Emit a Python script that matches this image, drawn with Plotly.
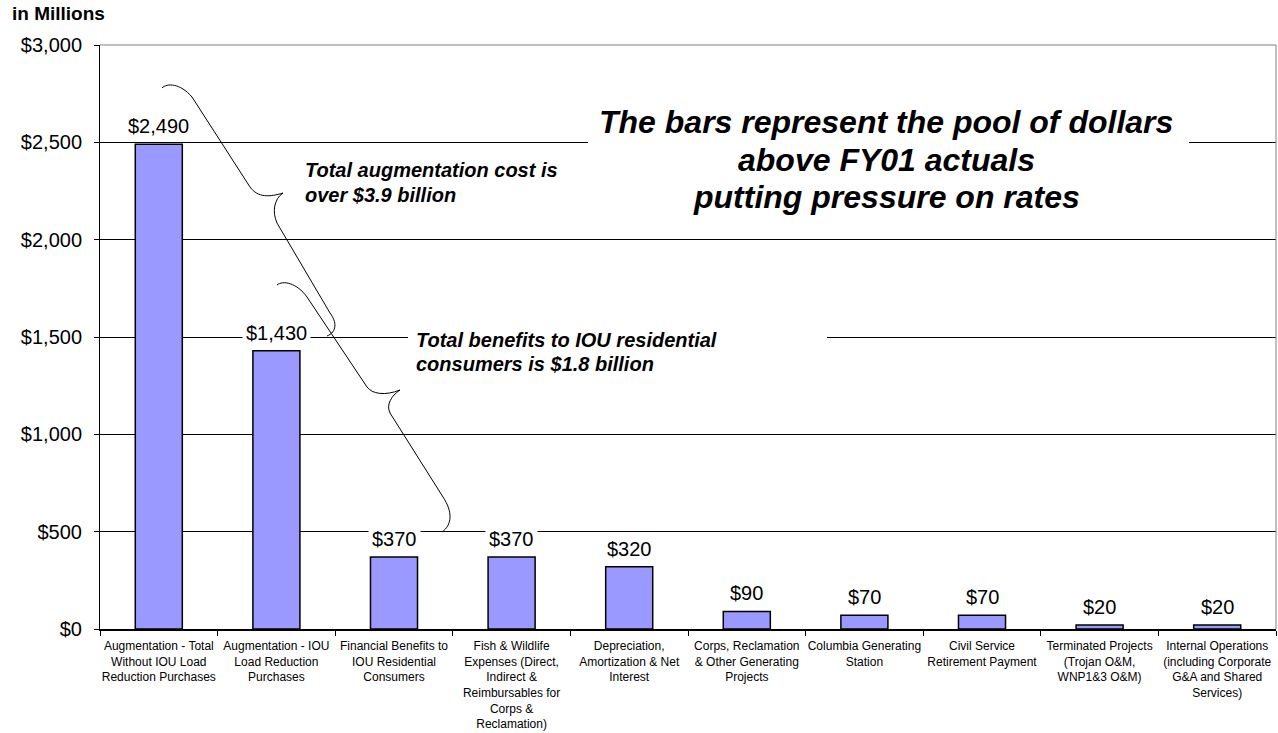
import plotly.graph_objects as go

# ---------------- data ----------------
categories = [
    "Augmentation - Total Without IOU Load Reduction Purchases",
    "Augmentation - IOU Load Reduction Purchases",
    "Financial Benefits to IOU Residential Consumers",
    "Fish & Wildlife Expenses",
    "Depreciation, Amortization & Net Interest",
    "Corps, Reclamation & Other Generating Projects",
    "Columbia Generating Station",
    "Civil Service Retirement Payment",
    "Terminated Projects",
    "Internal Operations",
]
tick_labels = [
    "Augmentation - Total<br>Without IOU Load<br>Reduction Purchases",
    "Augmentation - IOU<br>Load Reduction<br>Purchases",
    "Financial Benefits to<br>IOU Residential<br>Consumers",
    "Fish & Wildlife<br>Expenses (Direct,<br>Indirect &<br>Reimbursables for<br>Corps &<br>Reclamation)",
    "Depreciation,<br>Amortization & Net<br>Interest",
    "Corps, Reclamation<br>& Other Generating<br>Projects",
    "Columbia Generating<br>Station",
    "Civil Service<br>Retirement Payment",
    "Terminated Projects<br>(Trojan O&M,<br>WNP1&3 O&M)",
    "Internal Operations<br>(including Corporate<br>G&A and Shared<br>Services)",
]
values = [2490, 1430, 370, 370, 320, 90, 70, 70, 20, 20]
value_labels = ["$2,490", "$1,430", "$370", "$370", "$320", "$90", "$70", "$70", "$20", "$20"]
y_ticks = [0, 500, 1000, 1500, 2000, 2500, 3000]
y_tick_labels = ["$0", "$500", "$1,000", "$1,500", "$2,000", "$2,500", "$3,000"]

main_note_lines = ["The bars represent the pool of dollars", "above FY01 actuals", "putting pressure on rates"]
aug_note_lines = ["Total augmentation cost is", "over $3.9 billion"]
ben_note_lines = ["Total benefits to IOU residential", "consumers is $1.8 billion"]

# ---------------- layout geometry ----------------
W, H = 1278, 733
ML, MR, MT, MB = 100, 2, 45, 104
PW, PH = W - ML - MR, H - MT - MB
FONT = "Arial, Liberation Sans, sans-serif"


def px(x):
    return (x - ML) / PW


def py(y):
    return (H - MB - y) / PH


def path_from(points):
    out = []
    for cmd, pts in points:
        coords = " ".join(f"{px(a):.5f},{py(b):.5f}" for a, b in pts)
        out.append(f"{cmd} {coords}")
    return " ".join(out)


brace1 = path_from([
    ("M", [(162, 88)]),
    ("C", [(167, 83), (180, 83), (192, 97)]),
    ("L", [(250, 187)]),
    ("C", [(258, 198), (270, 197), (283, 193)]),
    ("C", [(274, 199), (272, 212), (277, 223)]),
    ("L", [(330, 313)]),
    ("C", [(337, 322), (337, 332), (327, 336)]),
])
brace2 = path_from([
    ("M", [(277, 285)]),
    ("C", [(283, 280), (297, 283), (307, 297)]),
    ("L", [(367, 387)]),
    ("C", [(372, 394), (385, 396), (400, 390)]),
    ("C", [(391, 396), (386, 405), (390, 413)]),
    ("L", [(443, 497)]),
    ("C", [(453, 512), (452, 525), (442, 532)]),
])

fig = go.Figure()
fig.add_trace(go.Bar(
    x=categories,
    y=values,
    width=0.4,
    marker=dict(color="#9999FF", line=dict(color="#000000", width=1.5)),
    hoverinfo="x+y",
))

annotations = []
for c, v, t in zip(categories, values, value_labels):
    annotations.append(dict(
        x=c, y=v, xref="x", yref="y", text=t, showarrow=False,
        yanchor="middle", yshift=18, bgcolor="white", borderpad=3,
        font=dict(family=FONT, size=20, color="black"),
    ))

annotations.append(dict(
    x=px(10), y=py(13), xref="paper", yref="paper", text="<b>in Millions</b>",
    showarrow=False, xanchor="left", yanchor="middle",
    font=dict(family=FONT, size=19, color="black")))

for line, yy in zip(main_note_lines, [122, 160, 197]):
    annotations.append(dict(
        x=px(886), y=py(yy), xref="paper", yref="paper", text=f"<b><i>{line}</i></b>",
        showarrow=False, xanchor="center", yanchor="middle",
        font=dict(family=FONT, size=32, color="black")))

for line, yy in zip(aug_note_lines, [170, 195]):
    annotations.append(dict(
        x=px(303), y=py(yy), xref="paper", yref="paper", text=f"<b><i>{line}</i></b>",
        showarrow=False, xanchor="left", yanchor="middle",
        font=dict(family=FONT, size=20, color="black")))

for line, yy in zip(ben_note_lines, [340, 364]):
    annotations.append(dict(
        x=px(414), y=py(yy), xref="paper", yref="paper", text=f"<b><i>{line}</i></b>",
        showarrow=False, xanchor="left", yanchor="middle",
        font=dict(family=FONT, size=20, color="black")))

shapes = [
    # white text-box backgrounds (hide gridlines under the notes)
    dict(type="rect", xref="paper", yref="paper",
         x0=px(588), x1=px(1189), y0=py(218), y1=py(100),
         fillcolor="white", line=dict(width=0), layer="above"),
    dict(type="rect", xref="paper", yref="paper",
         x0=px(408), x1=px(827), y0=py(378), y1=py(326),
         fillcolor="white", line=dict(width=0), layer="above"),
    # plot border (top/right)
    dict(type="line", xref="paper", yref="paper", x0=0, x1=1, y0=1, y1=1,
         line=dict(color="#808080", width=1)),
    dict(type="line", xref="paper", yref="paper", x0=1, x1=1, y0=0, y1=1,
         line=dict(color="#808080", width=1)),
    # braces
    dict(type="path", xref="paper", yref="paper", path=brace1,
         line=dict(color="black", width=1)),
    dict(type="path", xref="paper", yref="paper", path=brace2,
         line=dict(color="black", width=1)),
]

fig.update_layout(
    width=W, height=H,
    margin=dict(l=ML, r=MR, t=MT, b=MB, pad=0),
    paper_bgcolor="white", plot_bgcolor="white",
    showlegend=False,
    annotations=annotations,
    shapes=shapes,
    font=dict(family=FONT, color="black"),
    xaxis=dict(
        tickmode="array", tickvals=categories, ticktext=tick_labels,
        range=[-0.5, len(categories) - 0.5],
        tickson="boundaries", ticks="outside", ticklen=5, tickcolor="black",
        showline=True, linecolor="black", linewidth=1.5,
        showgrid=False, tickangle=0,
        tickfont=dict(family=FONT, size=12, color="black"),
        ticklabelstandoff=5,
        fixedrange=True,
    ),
    yaxis=dict(
        range=[0, 3000], tickmode="array", tickvals=y_ticks, ticktext=y_tick_labels,
        ticks="outside", ticklen=5, tickcolor="black",
        showline=True, linecolor="black", linewidth=1,
        showgrid=True, gridcolor="#000000", gridwidth=1,
        zeroline=False,
        tickfont=dict(family=FONT, size=20, color="black"),
        ticklabelstandoff=8,
        fixedrange=True,
    ),
)

fig.write_html(
    "out.html",
    config={"displayModeBar": False},
    post_script="document.body.style.margin='0';document.body.style.overflow='hidden';",
)
